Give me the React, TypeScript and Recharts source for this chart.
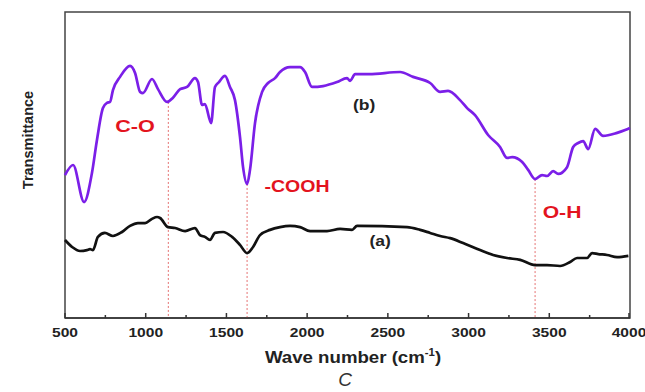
import React from 'react';
import {
  LineChart,
  Line,
  XAxis,
  YAxis,
  ReferenceLine,
  ReferenceDot,
  ReferenceArea,
} from 'recharts';

// spectrum (b) – purple
const bWave = [
  500, 550, 618, 667, 698, 735, 760, 779, 797, 841, 903, 934, 965, 983, 1039, 1076, 1132, 1169,
  1213, 1256, 1305, 1324, 1349, 1367, 1405, 1429, 1454, 1491, 1522, 1553, 1584, 1603, 1628, 1646,
  1677, 1721, 1758, 1801, 1832, 1894, 1956, 1987, 2030, 2099, 2185, 2247, 2266, 2297, 2384, 2576,
  2656, 2762, 2824, 2873, 2947, 2991, 3040, 3121, 3195, 3239, 3270, 3332, 3369, 3412, 3455, 3486,
  3524, 3555, 3610, 3648, 3679, 3710, 3741, 3784, 3833, 3920, 3970, 4000,
];
const bValue = [
  46.7, 50.0, 37.9, 47.4, 58.2, 68.6, 70.3, 70.6, 74.5, 78.8, 82.4, 80.1, 73.9, 73.5, 78.1, 74.8,
  70.6, 72.0, 74.8, 75.5, 78.4, 77.1, 69.6, 69.9, 63.7, 75.5, 77.1, 79.1, 75.5, 71.2, 59.2, 49.3,
  43.8, 48.4, 63.7, 73.9, 76.8, 78.4, 80.4, 82.0, 82.0, 80.4, 75.5, 75.8, 77.1, 78.4, 77.5, 79.7,
  79.7, 80.4, 78.8, 76.8, 73.9, 74.2, 71.2, 68.6, 66.3, 59.8, 55.9, 52.3, 52.6, 51.0, 48.4, 45.4,
  46.7, 46.4, 48.0, 47.1, 49.3, 55.9, 57.2, 57.8, 55.2, 61.8, 59.5, 60.5, 61.4, 62.1,
];

// spectrum (a) – black
const aWave = [
  500, 544, 593, 636, 655, 673, 704, 747, 797, 853, 903, 952, 996, 1039, 1070, 1089, 1138, 1182,
  1244, 1305, 1336, 1367, 1398, 1429, 1479, 1535, 1584, 1628, 1665, 1708, 1770, 1832, 1894, 1956,
  2018, 2123, 2204, 2278, 2309, 2619, 2700, 2762, 2824, 2886, 2966, 3071, 3152, 3239, 3320, 3412,
  3486, 3567, 3629, 3672, 3734, 3765, 3803, 3858, 3920, 3990,
];
const aValue = [
  25.5, 23.2, 21.9, 22.2, 22.5, 22.2, 26.5, 27.8, 26.8, 28.1, 30.1, 31.0, 31.0, 32.4, 33.0, 32.7,
  29.7, 29.4, 28.4, 29.4, 27.1, 26.5, 25.5, 27.8, 28.1, 26.5, 23.9, 21.2, 23.2, 27.1, 28.8, 29.7,
  30.1, 29.7, 28.4, 28.4, 29.1, 28.8, 30.1, 29.7, 28.8, 27.8, 26.8, 26.1, 24.5, 22.2, 20.6, 19.6,
  19.0, 17.3, 17.3, 17.0, 18.3, 19.6, 19.6, 21.2, 20.9, 20.6, 19.9, 20.3,
];

const xTicks = [500, 750, 1000, 1250, 1500, 1750, 2000, 2250, 2500, 2750, 3000, 3250, 3500, 3750, 4000];

// band markers: position, curve value at top of the dashed line, label
const bandWave = [1140, 1628, 3412];
const bandTop = [70.6, 43.8, 45.4];

const bandLabels = ['C-O', '-COOH', 'O-H'];
const bandLabelWave = [934, 1937, 3579];
const bandLabelValue = [62.7, 42.8, 34.6];
const bandLabelStretch = [1.35, 1.22, 1.32];

const curveLabels = ['(b)', '(a)'];
const curveLabelWave = [2353, 2452];
const curveLabelValue = [69.6, 25.2];

const bData = bWave.map((w, i) => ({ w, v: bValue[i] }));
const aData = aWave.map((w, i) => ({ w, v: aValue[i] }));

const font = 'Liberation Sans, Arial, sans-serif';

const Tick = (props: any) => {
  const { x, y, payload } = props;
  const major = payload.value % 500 === 0;
  return (
    <g>
      <line x1={x} x2={x} y1={y} y2={y - (major ? 5 : 3)} stroke="#333" strokeWidth={1.5} />
      {major && (
        <text
          transform={`translate(${x},${y + 19}) scale(1.2,1)`}
          textAnchor="middle"
          fontFamily={font}
          fontWeight="bold"
          fontSize={13}
          fill="#222"
        >
          {payload.value}
        </text>
      )}
    </g>
  );
};

const textLabel = (text: string, color: string, size: number, stretch: number) => (props: any) => {
  const { viewBox } = props;
  const cx = viewBox.x + viewBox.width / 2;
  const cy = viewBox.y + viewBox.height / 2;
  return (
    <text
      transform={`translate(${cx},${cy}) scale(${stretch},1)`}
      textAnchor="middle"
      dominantBaseline="central"
      fontFamily={font}
      fontWeight="bold"
      fontSize={size}
      fill={color}
    >
      {text}
    </text>
  );
};

export default function App() {
  return (
    <div style={{ position: 'absolute', left: 0, top: 0, width: 645, height: 392, background: '#fff', fontFamily: font }}>
      <LineChart width={645} height={392} margin={{ top: 12, right: 15, left: 65, bottom: 50 }}>
        <XAxis
          type="number"
          dataKey="w"
          domain={[500, 4000]}
          ticks={xTicks}
          tick={<Tick />}
          tickSize={0}
          tickMargin={0}
          tickLine={false}
          height={24}
          axisLine={{ stroke: '#333', strokeWidth: 1.5 }}
          allowDuplicatedCategory={false}
        />
        <YAxis type="number" domain={[0, 100]} hide />
        <ReferenceArea x1={500} x2={4000} y1={0} y2={100} fill="none" stroke="#444" strokeWidth={1.5} />
        {bandWave.map((w, i) => (
          <ReferenceLine
            key={'band' + i}
            segment={[{ x: w, y: bandTop[i] }, { x: w, y: 0 }]}
            stroke="#e57373"
            strokeDasharray="2 2"
            strokeWidth={1}
          />
        ))}
        <Line data={aData} dataKey="v" type="monotone" stroke="#111" strokeWidth={2.7} dot={false} isAnimationActive={false} />
        <Line data={bData} dataKey="v" type="monotone" stroke="#7b1fe8" strokeWidth={2.7} dot={false} isAnimationActive={false} />
        {bandLabels.map((t, i) => (
          <ReferenceDot
            key={'bl' + i}
            x={bandLabelWave[i]}
            y={bandLabelValue[i]}
            r={0}
            fill="none"
            stroke="none"
            label={textLabel(t, '#e3141e', 16, bandLabelStretch[i])}
          />
        ))}
        {curveLabels.map((t, i) => (
          <ReferenceDot
            key={'cl' + i}
            x={curveLabelWave[i]}
            y={curveLabelValue[i]}
            r={0}
            fill="none"
            stroke="none"
            label={textLabel(t, '#222', 14, 1.25)}
          />
        ))}
      </LineChart>
      <div
        style={{
          position: 'absolute',
          left: 28,
          top: 140,
          transform: 'translate(-50%, -50%) rotate(-90deg)',
          fontWeight: 'bold',
          fontSize: 14.5,
          color: '#222',
          whiteSpace: 'nowrap',
        }}
      >
        Transmittance
      </div>
      <div
        style={{
          position: 'absolute',
          left: 353,
          top: 357,
          transform: 'translate(-50%, -50%) scaleX(1.13)',
          fontWeight: 'bold',
          fontSize: 16.5,
          color: '#222',
          whiteSpace: 'nowrap',
        }}
      >
        Wave number (cm<sup style={{ fontSize: 10 }}>-1</sup>)
      </div>
      <div
        style={{
          position: 'absolute',
          left: 345,
          top: 380,
          transform: 'translate(-50%, -50%)',
          fontStyle: 'italic',
          fontSize: 19,
          color: '#333',
        }}
      >
        C
      </div>
    </div>
  );
}
